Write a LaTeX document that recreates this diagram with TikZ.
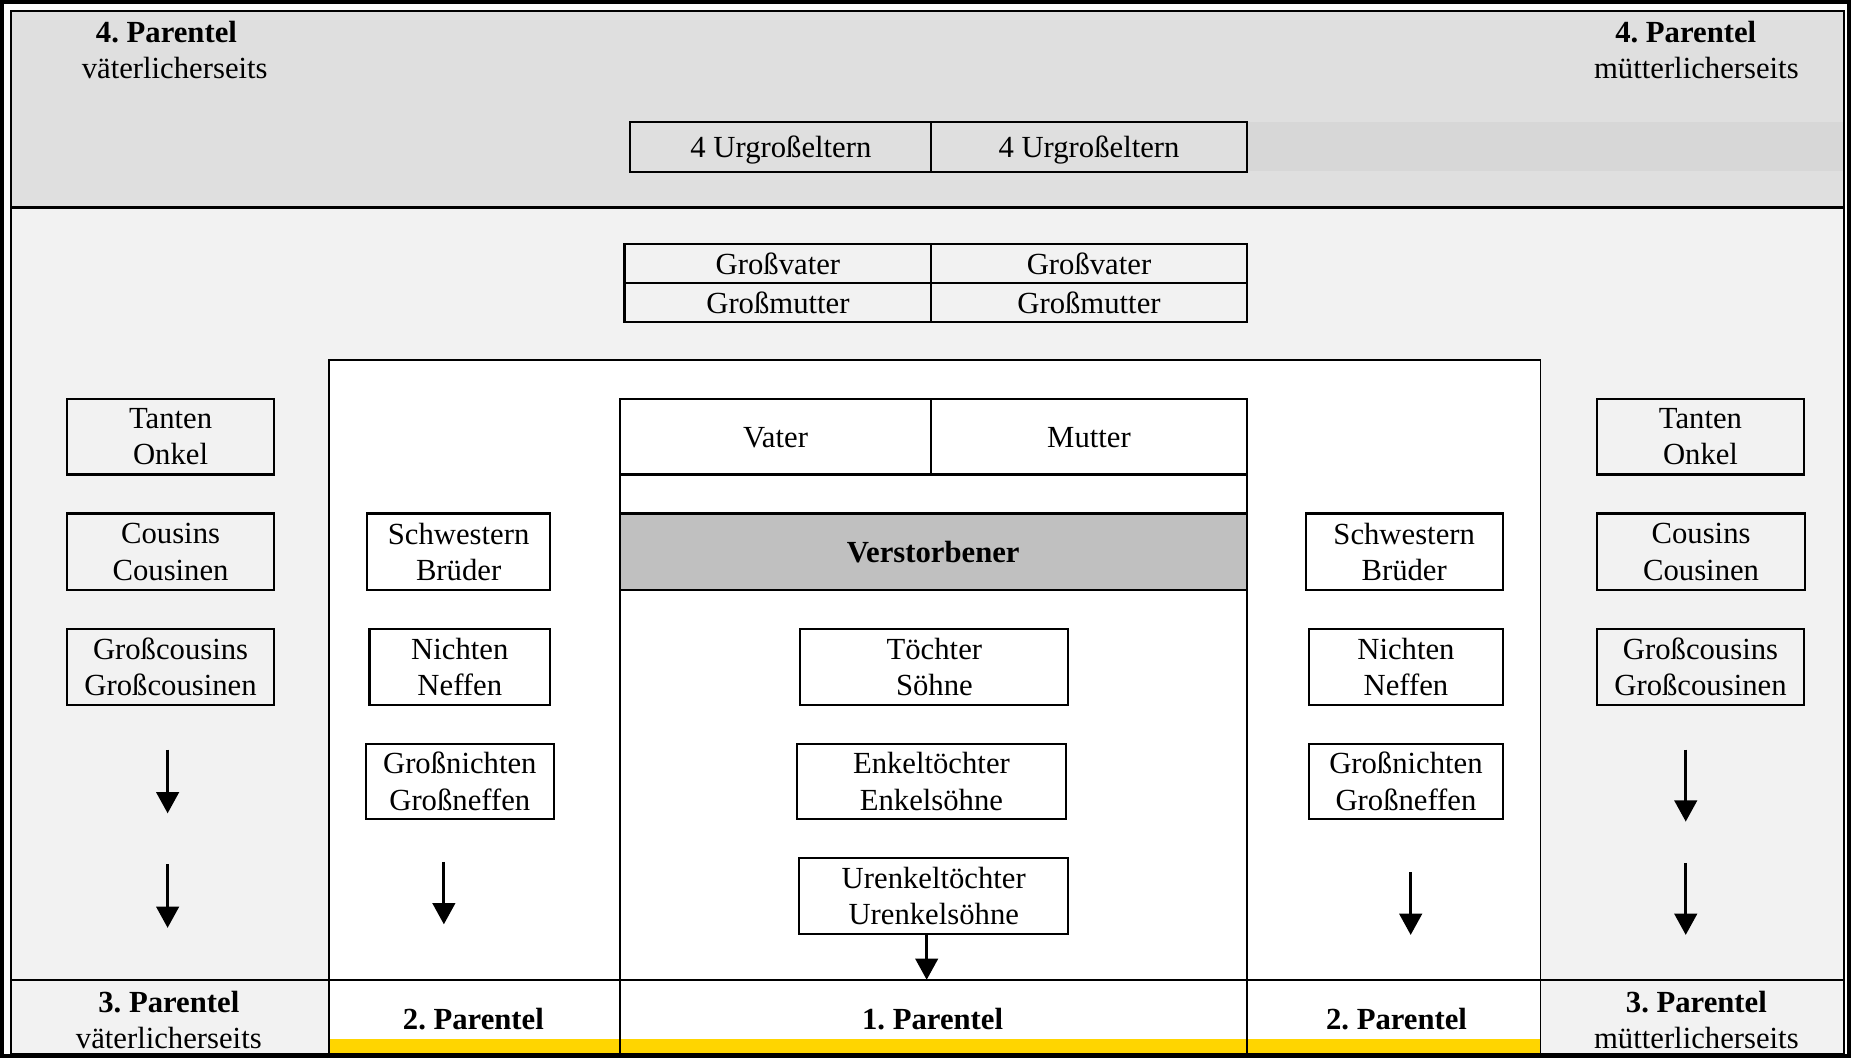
\documentclass[tikz,border=0pt]{standalone}
\usepackage{fontspec}
\setmainfont{Liberation Serif}
\frenchspacing
\usetikzlibrary{arrows.meta}
\definecolor{topband}{HTML}{DFDFDF}
\definecolor{strip}{HTML}{D7D7D7}
\definecolor{midgray}{HTML}{F2F2F2}
\definecolor{deadgray}{HTML}{C0C0C0}
\definecolor{gold}{HTML}{FFD500}
\tikzset{
  box/.style={draw, line width=1.8pt, align=center, inner sep=0pt, minimum height=64pt},
  one/.style={text height=21pt, text depth=3pt},
  lbl/.style={align=center, inner sep=0pt},
  arr/.style={line width=2.6pt, -{Triangle[width=19pt,length=18pt]}},
  panel/.style={line width=1.6pt},
  bold/.style={font=\fontsize{26}{31}\selectfont\bfseries},
}
\begin{document}
\begin{tikzpicture}[x=1pt,y=-1pt,font=\fontsize{26}{31}\selectfont]
\useasboundingbox (0,0) rectangle (1568,896);
% backgrounds
\fill[topband] (9,9) rectangle (1563,176);
\fill[strip] (1056,103) rectangle (1563,145);
\fill[midgray] (9,176) rectangle (1563,893);
\fill[white] (279,305) rectangle (1305,893);
\fill[gold] (279,880) rectangle (1305,893);
% panel lines
\draw[line width=2.4pt] (9,176) -- (1563,176);
\draw[panel] (279,893) -- (279,305) -- (1305,305) -- (1305,893);
\draw[panel] (525,338) -- (525,893);
\draw[panel] (1056,338) -- (1056,893);
\draw[line width=2pt] (9,830) -- (1563,830);
% border
\draw[line width=3.5pt] (1.75,1.75) rectangle (1566.25,894.25);
\draw[line width=1.5pt] (9.5,9.5) rectangle (1562,893);
% top band labels
\node[lbl,bold] (p4l) at (141,27) {4. Parentel};
\node[lbl] (p4lb) at (148,58) {väterlicherseits};
\node[lbl,bold] (p4r) at (1428,27) {4. Parentel};
\node[lbl] (p4rb) at (1437,58) {mütterlicherseits};
% great-grandparents
\node[box,one,minimum width=255pt,minimum height=43pt] (ur1) at (661.5,124.5) {4 Urgroßeltern};
\node[box,one,minimum width=267pt,minimum height=43pt] (ur2) at (922.5,124.5) {4 Urgroßeltern};
% grandparents
\node[box,minimum width=260pt,minimum height=33pt] (gv1) at (659,223.5) {Großvater};
\node[box,minimum width=260pt,minimum height=33pt] (gm1) at (659,256.5) {Großmutter};
\node[box,minimum width=267pt,minimum height=33pt] (gv2) at (922.5,223.5) {Großvater};
\node[box,minimum width=267pt,minimum height=33pt] (gm2) at (922.5,256.5) {Großmutter};
% parents
\node[box,one,minimum width=264pt] (vater) at (657,370) {Vater};
\node[box,one,minimum width=267pt] (mutter) at (922.5,370) {Mutter};
\node[box,one,bold,fill=deadgray,minimum width=531pt,minimum height=65pt] (verst) at (790.5,467.5) {Verstorbener};
% descendants
\node[box,minimum width=227pt] (toe) at (791.5,565) {Töchter\\Söhne};
\node[box,minimum width=228pt] (enk) at (789,662) {Enkeltöchter\\Enkelsöhne};
\node[box,minimum width=228pt] (uenk) at (791,759) {Urenkeltöchter\\Urenkelsöhne};
% left outer column
\node[box,minimum width=175pt] (tl) at (144.5,370) {Tanten\\Onkel};
\node[box,minimum width=175pt,minimum height=65pt] (cl) at (144.5,467.5) {Cousins\\Cousinen};
\node[box,minimum width=175pt] (gcl) at (144.5,565) {Großcousins\\Großcousinen};
% left inner column
\node[box,minimum width=155pt,minimum height=65pt] (sl) at (388.5,467.5) {Schwestern\\Brüder};
\node[box,minimum width=153pt] (nl) at (389.5,565) {Nichten\\Neffen};
\node[box,minimum width=159pt] (gnl) at (389.5,662) {Großnichten\\Großneffen};
% right inner column
\node[box,minimum width=167pt,minimum height=65pt] (sr) at (1189.5,467.5) {Schwestern\\Brüder};
\node[box,minimum width=164pt] (nr) at (1191,565) {Nichten\\Neffen};
\node[box,minimum width=164pt] (gnr) at (1191,662) {Großnichten\\Großneffen};
% right outer column
\node[box,minimum width=175pt] (tr) at (1440.5,370) {Tanten\\Onkel};
\node[box,minimum width=176pt,minimum height=65pt] (cr) at (1441,467.5) {Cousins\\Cousinen};
\node[box,minimum width=175pt] (gcr) at (1440.5,565) {Großcousins\\Großcousinen};
% arrows
\coordinate (a1s) at (142,635); \coordinate (a1e) at (142,689);
\coordinate (a2s) at (142,732); \coordinate (a2e) at (142,786);
\coordinate (a3s) at (376,730); \coordinate (a3e) at (376,783);
\coordinate (a4e) at (785,830);
\coordinate (a5s) at (1195,739); \coordinate (a5e) at (1195,792);
\coordinate (a6s) at (1428,635); \coordinate (a6e) at (1428,696);
\coordinate (a7s) at (1428,731); \coordinate (a7e) at (1428,792);
\draw[arr] (a1s) -- (a1e);
\draw[arr] (a2s) -- (a2e);
\draw[arr] (a3s) -- (a3e);
\draw[arr] (uenk.south -| a4e) -- (a4e);
\draw[arr] (a5s) -- (a5e);
\draw[arr] (a6s) -- (a6e);
\draw[arr] (a7s) -- (a7e);
% bottom labels
\node[lbl] (p3l) at (143,864) {\textbf{3. Parentel}\\väterlicherseits};
\node[lbl,bold,one] (p2l) at (401,863) {2. Parentel};
\node[lbl,bold,one] (p1) at (790,863) {1. Parentel};
\node[lbl,bold,one] (p2r) at (1183,863) {2. Parentel};
\node[lbl] (p3r) at (1437,864) {\textbf{3. Parentel}\\mütterlicherseits};
\end{tikzpicture}
\end{document}
